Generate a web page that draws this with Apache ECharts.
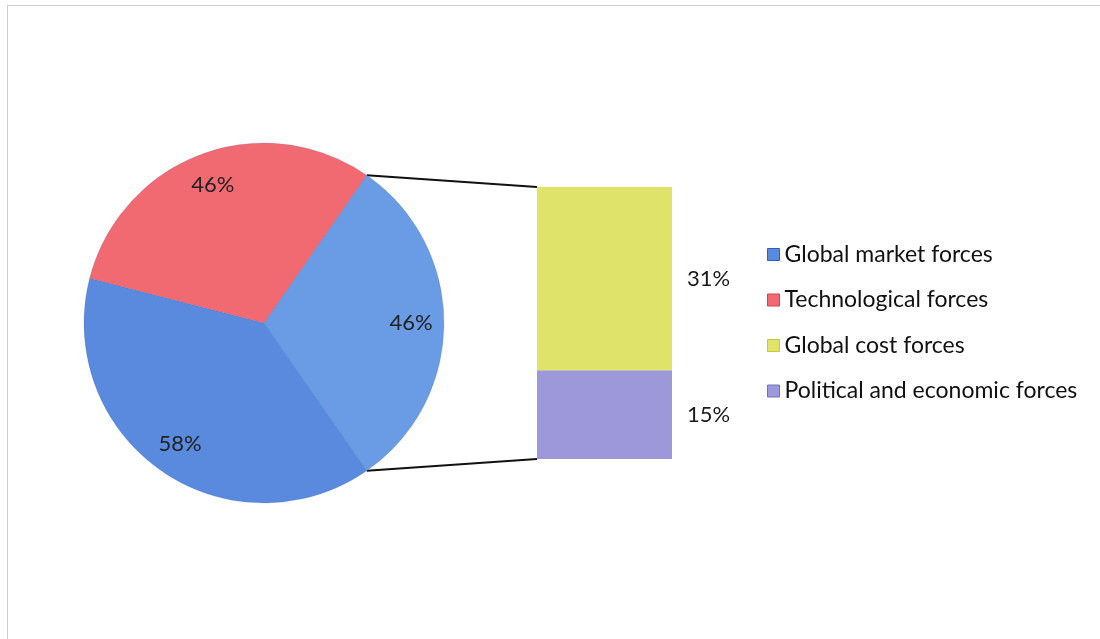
<!DOCTYPE html>
<html>
<head>
<meta charset="utf-8">
<script src="https://cdn.jsdelivr.net/npm/echarts@6/dist/echarts.min.js"></script>
<style>
  html, body { margin: 0; padding: 0; background: #fff; }
  #main {
    position: absolute; left: 0; top: 0;
    width: 1100px; height: 639px;
  }
  .frame {
    position: absolute; left: 7px; top: 5px; right: 0; bottom: 0;
    border-top: 1px solid #cfcfcf; border-left: 1px solid #cfcfcf;
    pointer-events: none;
  }
</style>
</head>
<body>
<div id="main"></div>
<div class="frame"></div>
<script>
// 饼图数据（顺时针：其他 → 全球市场 → 技术）
const pieNames = ['Other', 'Global market forces', 'Technological forces']
const pieValues = [46, 58, 46]
const pieColors = ['#6A9BE5', '#5A8ADD', '#F26A71']

// 右侧堆叠柱（拆分"其他"）
const barNames = ['Political and economic forces', 'Global cost forces']
const barValues = [15, 31]
const barColors = ['#9D98DA', '#DFE36A']

const legendNames = ['Global market forces', 'Technological forces', 'Global cost forces', 'Political and economic forces']
const legendBorders = ['#2f5fb8', '#d8404a', '#c4c83a', '#7470c0']

const FONT = 'Lato'
const pieCenter = [264, 323]
const pieRadius = 180

const total = pieValues.reduce((a, b) => a + b, 0)
const startAngle = (360 * pieValues[0] / total) / 2 // "其他"扇区对称于水平线

const chart = echarts.init(document.getElementById('main'))

const pieData = pieNames.map((n, i) => ({
  name: n,
  value: pieValues[i],
  itemStyle: { color: pieColors[i] },
}))

chart.setOption({
  animation: false,
  legend: {
    data: legendNames.map((n, i) => ({
      name: n,
      itemStyle: { borderColor: legendBorders[i], borderWidth: 1 },
    })),
    orient: 'vertical',
    left: 762,
    top: 238,
    itemWidth: 12,
    itemHeight: 12,
    itemGap: 22.5,
    icon: 'rect',
    textStyle: { fontFamily: FONT, fontSize: 23, color: '#111', lineHeight: 22 },
  },
  grid: { left: 537, width: 135, top: 187, bottom: 180 },
  xAxis: { type: 'category', data: ['Other'], show: false },
  yAxis: { type: 'value', min: 0, max: pieValues[0], show: false },
  series: [
    {
      name: 'pie',
      type: 'pie',
      center: pieCenter,
      radius: pieRadius,
      startAngle,
      clockwise: true,
      label: { show: false },
      labelLine: { show: false },
      itemStyle: { borderColor: 'rgba(40,80,170,0.35)', borderWidth: 0.5 },
      data: pieData,
    },
    // 透明饼，仅用于把标签放在 0.8r 处
    {
      name: 'pieLabels',
      type: 'pie',
      center: pieCenter,
      radius: pieRadius * 1.6,
      startAngle,
      clockwise: true,
      silent: true,
      itemStyle: { color: 'transparent' },
      label: {
        position: 'inside',
        formatter: '{c}%',
        fontFamily: FONT,
        fontSize: 22,
        color: '#222',
      },
      labelLine: { show: false },
      data: pieNames.map((n, i) => ({ name: n, value: pieValues[i] })),
    },
    ...barNames.map((n, i) => ({
      name: n,
      type: 'bar',
      stack: 'other',
      barWidth: 135,
      itemStyle: { color: barColors[i] },
      label: {
        show: true,
        position: 'right',
        distance: 15,
        formatter: '{c}%',
        fontFamily: FONT,
        fontSize: 22,
        color: '#1a1a1a',
      },
      data: [barValues[i]],
    })),
  ],
})

// 连接线：从"其他"扇区边缘到柱子左上/左下角
const rad = startAngle * Math.PI / 180
const pTop = [pieCenter[0] + pieRadius * Math.cos(rad), pieCenter[1] - pieRadius * Math.sin(rad)]
const pBot = [pieCenter[0] + pieRadius * Math.cos(rad), pieCenter[1] + pieRadius * Math.sin(rad)]
const barLeft = chart.convertToPixel({ gridIndex: 0 }, ['Other', 0])[0] - 135 / 2
const yTop = chart.convertToPixel({ gridIndex: 0 }, ['Other', pieValues[0]])[1]
const yBot = chart.convertToPixel({ gridIndex: 0 }, ['Other', 0])[1]

chart.setOption({
  graphic: [
    { type: 'line', shape: { x1: pTop[0], y1: pTop[1], x2: barLeft, y2: yTop }, style: { stroke: '#111', lineWidth: 2 } },
    { type: 'line', shape: { x1: pBot[0], y1: pBot[1], x2: barLeft, y2: yBot }, style: { stroke: '#111', lineWidth: 2 } },
  ],
})
</script>
</body>
</html>
